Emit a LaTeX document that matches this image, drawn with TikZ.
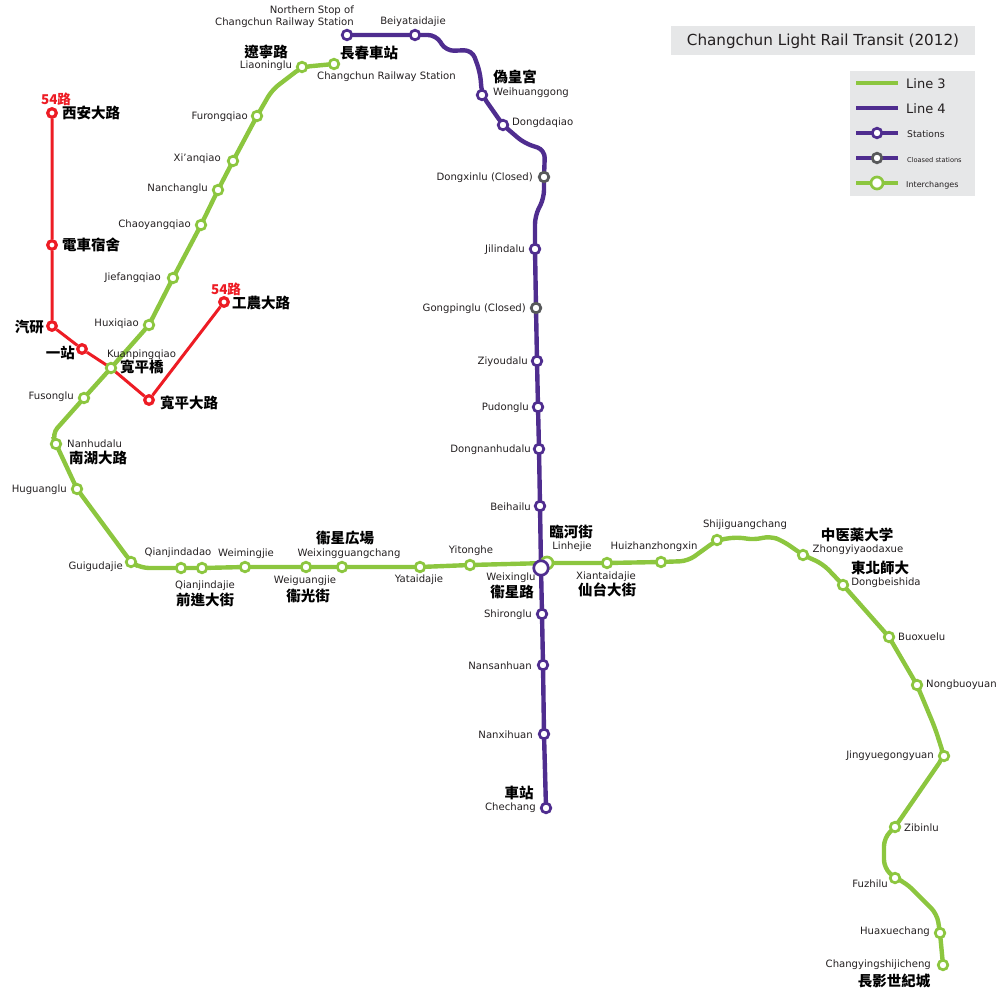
\documentclass[tikz,border=0pt]{standalone}
\usepackage{fontspec}
\setmainfont{DejaVu Sans}
\newfontfamily\cjkf{Noto Sans CJK TC}
\usetikzlibrary{backgrounds}
\definecolor{gline}{HTML}{8CC63F}
\definecolor{pline}{HTML}{4F2D8F}
\definecolor{rline}{HTML}{ED1C24}
\definecolor{gclosed}{HTML}{58595B}
\definecolor{panel}{HTML}{E6E7E8}
\definecolor{ink}{HTML}{231F20}
\tikzset{
  x=1pt,y=-1pt,
  stn/.style={circle,fill=white,inner sep=0pt,minimum size=9.6pt,line width=2.7pt},
  gs/.style={stn,draw=gline},
  ps/.style={stn,draw=pline},
  cs/.style={stn,draw=gclosed},
  rs/.style={stn,draw=rline,line width=3.2pt,minimum size=8.6pt},
  glin/.style={draw=gline,line width=4.4pt,rounded corners=8pt,line cap=round},
  plin/.style={draw=pline,line width=4.4pt,rounded corners=8pt,line cap=round},
  rlin/.style={draw=rline,line width=3pt},
  lab/.style={inner sep=0pt,text=ink,font=\fontsize{10.1}{12.5}\selectfont,align=right,yshift=-0.7pt},
  han/.style={inner sep=0pt,text=black,font=\cjkf\bfseries\fontsize{14.5}{16}\selectfont},
  redh/.style={han,text=rline,font=\cjkf\bfseries\fontsize{13.5}{16}\selectfont},
  panelbox/.style={fill=panel,draw=none,inner sep=0pt}
}
\newcommand{\tl}[5]{\node[lab,anchor=#4] (#1) at (#2,#3) {#5};}
\newcommand{\hl}[5]{\node[han,anchor=#4] (#1) at (#2,#3) {#5};}
\begin{document}
\begin{tikzpicture}
\useasboundingbox (0,0) rectangle (1000,1000);
\node[inner sep=0pt,text=ink,font=\fontsize{15.2}{17}\selectfont] (title) at (823,41) {Changchun Light Rail Transit (2012)};
% Line 3 stations
\node[gs] (changchun) at (334,64) {};
\node[gs] (liaoning) at (302,67) {};
\coordinate (g1) at (272,90);
\node[gs] (furong) at (257,116) {};
\node[gs] (xian) at (233,161) {};
\node[gs] (nanchang) at (218,190) {};
\node[gs] (chaoyang) at (201,225) {};
\node[gs] (jiefang) at (173,278) {};
\node[gs] (huxi) at (149,325) {};
\node[gs] (kuanping) at (111,368) {};
\node[gs] (fusong) at (84,398) {};
\coordinate (g2) at (52,434);
\node[gs] (nanhu) at (56,444) {};
\node[gs] (huguang) at (77,489) {};
\node[gs] (guigu) at (131,562) {};
\coordinate (g3) at (141,568);
\node[gs] (qjdd) at (181,568) {};
\node[gs] (qjdj) at (202,568) {};
\node[gs] (weiming) at (245,567) {};
\node[gs] (weiguang) at (306,567) {};
\node[gs] (wxgc) at (342,567) {};
\node[gs] (yatai) at (420,567) {};
\node[gs] (yitong) at (470,565) {};
\node[gs,minimum size=12pt] (linhe) at (547,563) {};
\node[gs] (xiantai) at (607,563) {};
\node[gs] (huizhan) at (661,562) {};
\coordinate (g4) at (688,561);
\node[gs] (shiji) at (717,540) {};
\coordinate (g5) at (738,537);
\coordinate (g6) at (754,540);
\coordinate (g7) at (770,536);
\coordinate (g8) at (783,541);
\node[gs] (zhongyi) at (803,555) {};
\coordinate (g9) at (823,564);
\node[gs] (dongbei) at (843,585) {};
\node[gs] (buoxue) at (889,637) {};
\node[gs] (nongbuo) at (917,685) {};
\coordinate (g10) at (935,728);
\node[gs] (jingyue) at (944,756) {};
\node[gs] (zibin) at (895,827) {};
\coordinate (g11) at (884,838);
\coordinate (g12) at (884,868);
\node[gs] (fuzhi) at (895,878) {};
\coordinate (g13) at (906,883);
\coordinate (g14) at (937,914);
\node[gs] (huaxue) at (940,933) {};
\node[gs] (changying) at (943,965) {};
% Line 4 stations
\node[ps] (northern) at (347,35) {};
\node[ps] (beiyatai) at (415,35) {};
\coordinate (p1) at (436,35);
\coordinate (p2) at (446,51);
\coordinate (p3) at (472,50);
\coordinate (p4) at (480,72);
\node[ps] (weihuang) at (482,95) {};
\node[ps] (dongda) at (503,125) {};
\coordinate (p5) at (524,143);
\coordinate (p6) at (545,150);
\node[cs] (dongxin) at (544,177) {};
\coordinate (p7) at (544,198);
\coordinate (p8) at (535,216);
\node[ps] (jilin) at (535,249) {};
\node[cs] (gongping) at (536,308) {};
\node[ps] (ziyou) at (537,361) {};
\node[ps] (pudong) at (538,407) {};
\node[ps] (dongnan) at (539,449) {};
\node[ps] (beihai) at (540,506) {};
\node[ps,minimum size=14.5pt] (weixing) at (541,568) {};
\node[ps] (shirong) at (542,614) {};
\node[ps] (nansan) at (543,665) {};
\node[ps] (nanxi) at (544,734) {};
\node[ps] (chechang) at (546,808) {};
% Bus 54 stations
\node[rs] (xianave) at (52,113) {};
\node[rs] (dianche) at (52,245) {};
\node[rs] (qiyan) at (52,326) {};
\node[rs] (yizhan) at (82,349) {};
\node[rs] (kpave) at (149,400) {};
\node[rs] (gongnong) at (224,302) {};
% Legend stations
\coordinate (l3a) at (856,83); \coordinate (l3b) at (898,83);
\coordinate (l4a) at (856,108); \coordinate (l4b) at (898,108);
\coordinate (lsa) at (856,133); \coordinate (lsb) at (898,133);
\coordinate (lca) at (856,158); \coordinate (lcb) at (898,158);
\coordinate (lia) at (856,183); \coordinate (lib) at (898,183);
\node[ps] (lstat) at (877,133) {};
\node[cs] (lclosed) at (877,158) {};
\node[gs,minimum size=12pt] (linter) at (877,183) {};
\begin{scope}[on background layer]
\node[panelbox,minimum width=304pt,minimum height=29pt] (titlebox) at (823,40.5) {};
\node[panelbox,minimum width=125pt,minimum height=125pt] (legendbox) at (912.5,133.5) {};
\path[rlin] (xianave) -- (dianche) -- (qiyan) -- (yizhan) -- (kuanping.center) -- (kpave) -- (gongnong);
\path[glin] (changchun.center) -- (liaoning.center) -- (g1) -- (furong.center) -- (xian.center) -- (nanchang.center) -- (chaoyang.center) -- (jiefang.center) -- (huxi.center) -- (kuanping.center) -- (fusong.center) -- (g2) -- (nanhu.center) -- (huguang.center) -- (guigu.center) -- (g3) -- (qjdd.center) -- (qjdj.center) -- (weiming.center) -- (weiguang.center) -- (wxgc.center) -- (yatai.center) -- (yitong.center) -- (linhe.center) -- (xiantai.center) -- (huizhan.center) -- (g4) -- (shiji.center) -- (g5) -- (g6) -- (g7) -- (g8) -- (zhongyi.center) -- (g9) -- (dongbei.center) -- (buoxue.center) -- (nongbuo.center) -- (g10) -- (jingyue.center) -- (zibin.center) -- (g11) -- (g12) -- (fuzhi.center) -- (g13) -- (g14) -- (huaxue.center) -- (changying.center);
\path[plin] (northern.center) -- (beiyatai.center) -- (p1) -- (p2) -- (p3) -- (p4) -- (weihuang.center) -- (dongda.center) -- (p5) -- (p6) -- (dongxin.center) -- (p7) -- (p8) -- (jilin.center) -- (gongping.center) -- (ziyou.center) -- (pudong.center) -- (dongnan.center) -- (beihai.center) -- (weixing.center) -- (shirong.center) -- (nansan.center) -- (nanxi.center) -- (chechang.center);
\path[glin,line cap=butt] (l3a) -- (l3b);
\path[plin,line cap=butt] (l4a) -- (l4b);
\path[plin,line cap=butt] (lsa) -- (lsb);
\path[plin,line cap=butt] (lca) -- (lcb);
\path[glin,line cap=butt] (lia) -- (lib);
\end{scope}
% Legend text
\node[lab,anchor=west,font=\fontsize{13}{14}\selectfont] (tl3) at (906,83) {Line 3};
\node[lab,anchor=west,font=\fontsize{13}{14}\selectfont] (tl4) at (906,108) {Line 4};
\node[lab,anchor=west,font=\fontsize{9.2}{11}\selectfont] (tls) at (907,133) {Stations};
\node[lab,anchor=west,font=\fontsize{6.6}{8}\selectfont] (tlc) at (907,159) {Cloased stations};
\node[lab,anchor=west,font=\fontsize{8}{9}\selectfont] (tli) at (906,185) {Interchanges};
% Red labels
\node[redh] (r54a) at (56,99) {54路};
\node[redh] (r54b) at (226,289) {54路};
\hl{hxian}{62}{113}{west}{西安大路}
\hl{hdian}{62}{245}{west}{電車宿舍}
\hl{hqi}{44}{327}{east}{汽研}
\hl{hyi}{75}{353}{east}{一站}
\hl{hkp}{120}{367}{west}{寬平橋}
\hl{hkpa}{160}{403}{west}{寬平大路}
\hl{hgn}{232}{303}{west}{工農大路}
% Line 3 labels
\tl{tcc}{317}{76}{west}{Changchun Railway Station}
\hl{hcc}{369}{53}{center}{長春車站}
\hl{hln}{266}{52}{center}{遼寧路}
\tl{tln}{266}{65}{center}{Liaoninglu}
\tl{tfr}{248}{116}{east}{Furongqiao}
\tl{txa}{221}{158}{east}{Xi'anqiao}
\tl{tnc}{208}{188}{east}{Nanchanglu}
\tl{tcy}{191}{224}{east}{Chaoyangqiao}
\tl{tjf}{161}{277}{east}{Jiefangqiao}
\tl{thx}{139}{323}{east}{Huxiqiao}
\tl{tkp}{107}{354}{west}{Kuanpingqiao}
\tl{tfs}{74}{396}{east}{Fusonglu}
\tl{tnh}{67}{443}{west}{Nanhudalu}
\hl{hnh}{69}{458}{west}{南湖大路}
\tl{thg}{67}{489}{east}{Huguanglu}
\tl{tgg}{123}{566}{east}{Guigudajie}
\tl{tqd}{178}{552}{center}{Qianjindadao}
\tl{tqj}{205}{585}{center}{Qianjindajie}
\hl{hqj}{205}{600}{center}{前進大街}
\tl{twm}{246}{553}{center}{Weimingjie}
\tl{twg}{305}{580}{center}{Weiguangjie}
\hl{hwg}{308}{596}{center}{衞光街}
\tl{twx}{349}{553}{center}{Weixingguangchang}
\hl{hwx}{345}{538}{center}{衞星広場}
\tl{tyt}{419}{579}{center}{Yataidajie}
\tl{tyi}{471}{550}{center}{Yitonghe}
\tl{tlh}{572}{546}{center}{Linhejie}
\hl{hlh}{571}{532}{center}{臨河街}
\tl{txt}{606}{576}{center}{Xiantaidajie}
\hl{hxt}{607}{590}{center}{仙台大街}
\tl{thz}{654}{546}{center}{Huizhanzhongxin}
\tl{tsj}{745}{524}{center}{Shijiguangchang}
\hl{hzy}{857}{535}{center}{中医薬大学}
\tl{tzy}{858}{549}{center}{Zhongyiyaodaxue}
\hl{hdb}{880}{568}{center}{東北師大}
\tl{tdb}{886}{582}{center}{Dongbeishida}
\tl{tbx}{898}{636}{west}{Buoxuelu}
\tl{tnb}{926}{684}{west}{Nongbuoyuan}
\tl{tjy}{934}{755}{east}{Jingyuegongyuan}
\tl{tzb}{904}{827}{west}{Zibinlu}
\tl{tfz}{888}{883}{east}{Fuzhilu}
\tl{thc}{930}{931}{east}{Huaxuechang}
\tl{tcg}{931}{964}{east}{Changyingshijicheng}
\hl{hcg}{894}{981}{center}{長影世紀城}
% Line 4 labels
\tl{tns}{354}{16}{east}{Northern Stop of\\Changchun Railway Station}
\tl{tby}{413}{21}{center}{Beiyataidajie}
\hl{hwh}{515}{77}{center}{偽皇宮}
\tl{twh}{493}{92}{west}{Weihuanggong}
\tl{tdd}{512}{122}{west}{Dongdaqiao}
\tl{tdx}{533}{177}{east}{Dongxinlu (Closed)}
\tl{tjl}{525}{249}{east}{Jilindalu}
\tl{tgp}{526}{308}{east}{Gongpinglu (Closed)}
\tl{tzi}{528}{361}{east}{Ziyoudalu}
\tl{tpd}{529}{407}{east}{Pudonglu}
\tl{tdn}{531}{449}{east}{Dongnanhudalu}
\tl{tbh}{531}{506}{east}{Beihailu}
\tl{tws}{511}{577}{center}{Weixinglu}
\hl{hws}{512}{592}{center}{衞星路}
\tl{tsr}{532}{614}{east}{Shironglu}
\tl{tns2}{532}{665}{east}{Nansanhuan}
\tl{tnx}{533}{734}{east}{Nanxihuan}
\hl{hcz}{519}{793}{center}{車站}
\tl{tch}{536}{807}{east}{Chechang}
\end{tikzpicture}
\end{document}
